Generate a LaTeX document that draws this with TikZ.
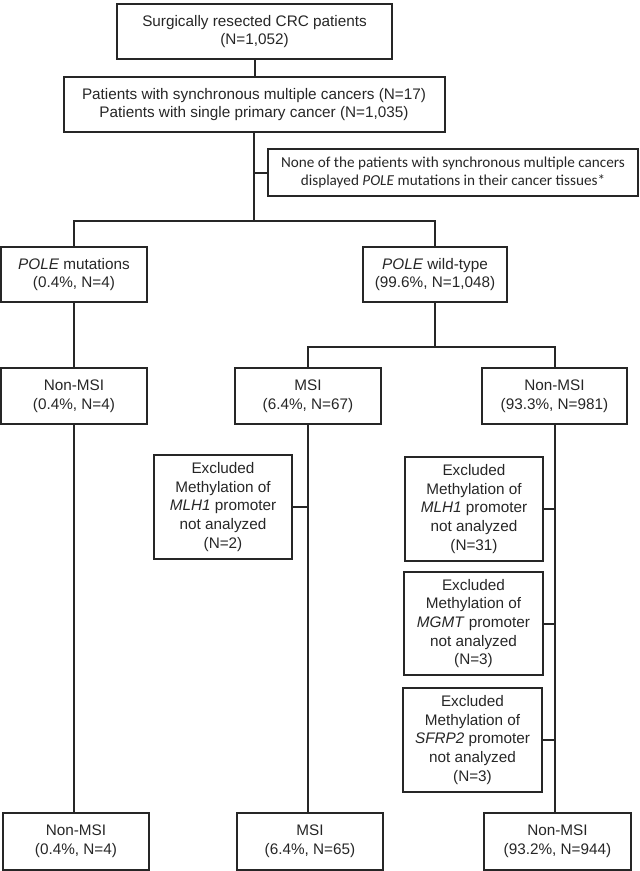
\documentclass[tikz,border=0pt]{standalone}
\usepackage{fontspec}
\setmainfont{Liberation Sans}
\newfontfamily\calfont{Carlito}
\begin{document}
\begin{tikzpicture}[x=1pt,y=-1pt,
  box/.style={draw=black!85, line width=2pt, inner sep=0pt, align=center,
    font=\fontsize{15.3}{18.6}\selectfont, text=black!85},
  notebox/.style={box, font=\calfont\fontsize{15.2}{18}\selectfont},
  conn/.style={draw=black!85, line width=2pt}]
\useasboundingbox (0,0) rectangle (640,871);
\node[box, minimum width=275pt, minimum height=55pt] (top) at (254.5,31.5) {Surgically resected CRC patients\\(N=1,052)};
\node[box, minimum width=381pt, minimum height=55pt] (box2) at (254,104.5) {Patients with synchronous multiple cancers (N=17)\\Patients with single primary cancer (N=1,035)};
\node[notebox, minimum width=370pt, minimum height=47pt] (note) at (453,172.5) {None of the patients with synchronous multiple cancers\\displayed \textit{POLE} mutations in their cancer tissues*};
\node[box, minimum width=146pt, minimum height=55pt] (polem) at (74,274.5) {\textit{POLE} mutations\\(0.4\%, N=4)};
\node[box, minimum width=144pt, minimum height=55pt] (wt) at (435,274.5) {\textit{POLE} wild-type\\(99.6\%, N=1,048)};
\node[box, minimum width=146pt, minimum height=56pt] (nmsiL) at (74,396) {Non-MSI\\(0.4\%, N=4)};
\node[box, minimum width=146pt, minimum height=56pt] (msi) at (308,396) {MSI\\(6.4\%, N=67)};
\node[box, minimum width=145pt, minimum height=56pt] (nmsiR) at (554.5,396) {Non-MSI\\(93.3\%, N=981)};
\node[box, minimum width=138pt, minimum height=104pt] (exL) at (223,507) {Excluded\\Methylation of\\\textit{MLH1} promoter\\not analyzed\\(N=2)};
\node[box, minimum width=138pt, minimum height=104pt] (exR1) at (474,509) {Excluded\\Methylation of\\\textit{MLH1} promoter\\not analyzed\\(N=31)};
\node[box, minimum width=139pt, minimum height=103pt] (exR2) at (473.5,623.5) {Excluded\\Methylation of\\\textit{MGMT} promoter\\not analyzed\\(N=3)};
\node[box, minimum width=139pt, minimum height=104pt] (exR3) at (472.5,740) {Excluded\\Methylation of\\\textit{SFRP2} promoter\\not analyzed\\(N=3)};
\node[box, minimum width=146pt, minimum height=57pt] (botL) at (76,841.5) {Non-MSI\\(0.4\%, N=4)};
\node[box, minimum width=146pt, minimum height=57pt] (botM) at (310,841.5) {MSI\\(6.4\%, N=65)};
\node[box, minimum width=147pt, minimum height=57pt] (botR) at (557.5,841.5) {Non-MSI\\(93.2\%, N=944)};
\coordinate (s1) at (254,221);
\coordinate (s2) at (435,347);
\path[conn] (top.south) -- (top.south |- box2.north);
\path[conn] (box2.south) -- (box2.south |- s1);
\path[conn] (note.west) -- (note.west -| box2.south);
\path[conn] (polem.north) -- (polem.north |- s1) -- (wt.north |- s1) -- (wt.north);
\path[conn] (polem.south) -- (nmsiL.north);
\path[conn] (nmsiL.south) -- (nmsiL.south |- botL.north);
\path[conn] (wt.south) -- (s2);
\path[conn] (msi.north) -- (msi.north |- s2) -- (nmsiR.north |- s2) -- (nmsiR.north);
\path[conn] (msi.south) -- (msi.south |- botM.north);
\path[conn] (exL.east) -- (exL.east -| msi.south);
\path[conn] (nmsiR.south) -- (nmsiR.south |- botR.north);
\path[conn] (exR1.east) -- (exR1.east -| nmsiR.south);
\path[conn] (exR2.east) -- (exR2.east -| nmsiR.south);
\path[conn] (exR3.east) -- (exR3.east -| nmsiR.south);
\end{tikzpicture}
\end{document}
